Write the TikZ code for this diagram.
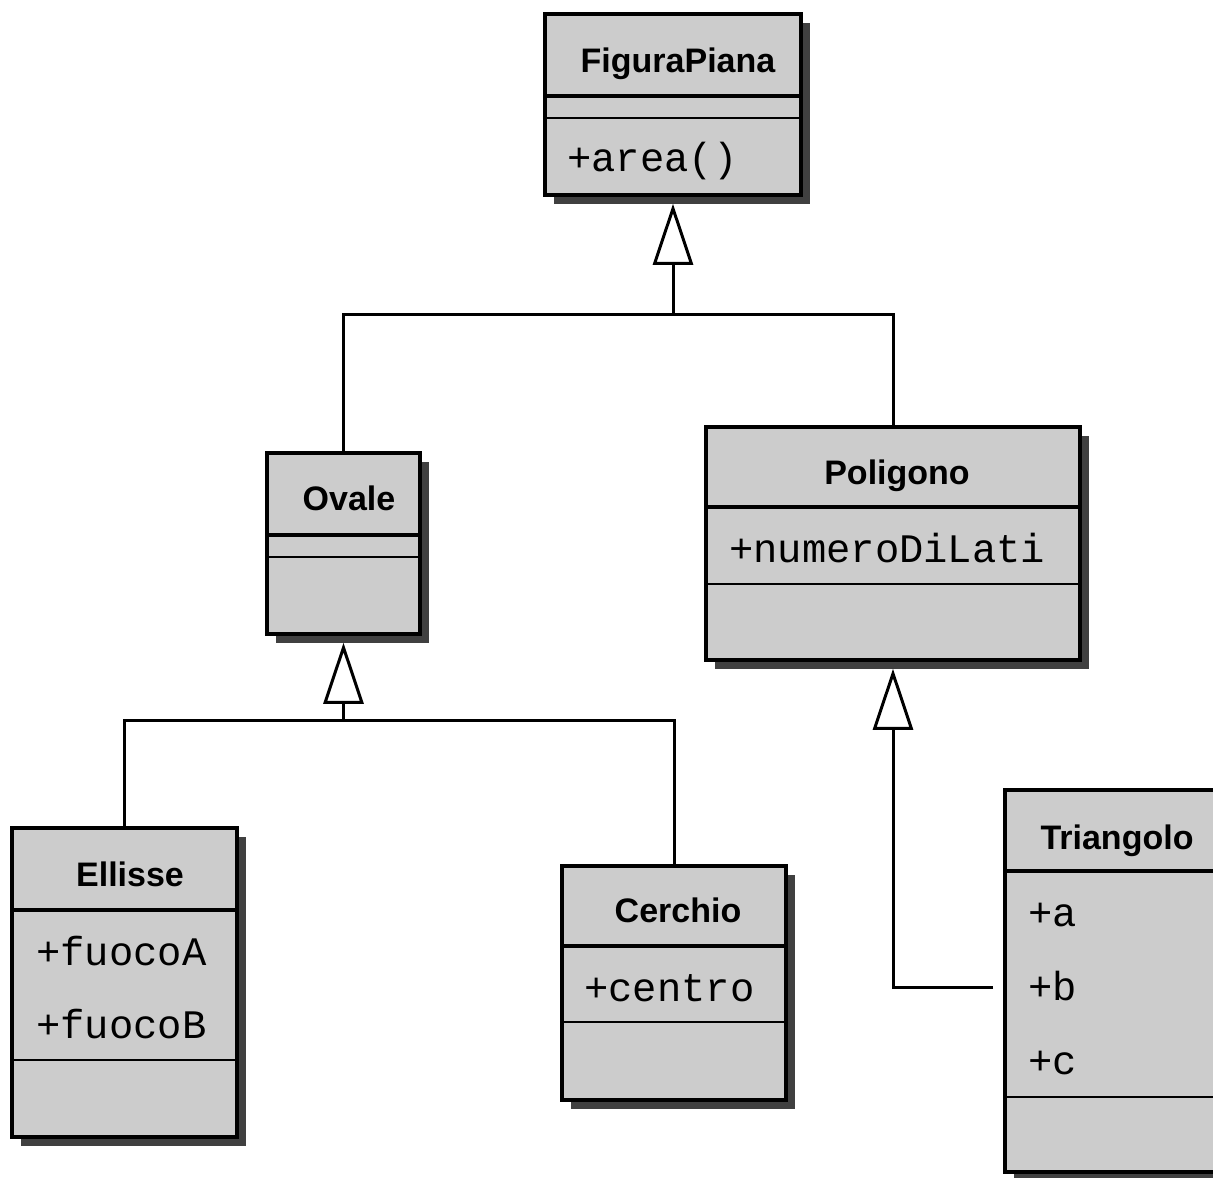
\documentclass[tikz,border=0pt]{standalone}
\usepackage{fontspec}
\setmainfont{Liberation Sans}
\newfontfamily\monof{Liberation Mono}
\usetikzlibrary{arrows.meta,shadows}
\definecolor{boxfill}{HTML}{CCCCCC}
\definecolor{shadowgray}{HTML}{404040}
\tikzset{
  umlbox/.style={rectangle, draw=black, line width=3.5bp, fill=boxfill, inner sep=0pt,
    drop shadow={shadow xshift=9bp, shadow yshift=-9bp, fill=shadowgray, opacity=1}},
  headsep/.style={line width=4bp},
  compsep/.style={line width=2.5bp},
  title/.style={font=\bfseries\fontsize{34bp}{40bp}\selectfont, anchor=base, inner sep=0pt},
  attr/.style={font=\monof\fontsize{40.5bp}{46bp}\selectfont, anchor=base west, inner sep=0pt},
  link/.style={line width=3bp},
  gen/.style={line width=3bp, -{Triangle[open, length=61bp, width=40bp]}, shorten >=7bp},
}
\begin{document}
\begin{tikzpicture}[x=1bp, y=-1bp]
\useasboundingbox (0,0) rectangle (1213,1178);
\fill[white] (0,0) rectangle (1213,1178);

% boxes
\node[umlbox, minimum width=256bp, minimum height=181bp] (fig) at (673,104.5) {};
\node[umlbox, minimum width=153bp, minimum height=181bp] (ova) at (343.5,543.5) {};
\node[umlbox, minimum width=374bp, minimum height=233bp] (pol) at (893,543.5) {};
\node[umlbox, minimum width=225bp, minimum height=309bp] (ell) at (124.5,982.5) {};
\node[umlbox, minimum width=224bp, minimum height=234bp] (cer) at (674,983) {};
\node[umlbox, minimum width=240bp, minimum height=382bp] (tri) at (1125,981) {};

% compartment lines
\draw[headsep] (fig.west |- 0,96) -- (fig.east |- 0,96);
\draw[compsep] (fig.west |- 0,118) -- (fig.east |- 0,118);
\draw[headsep] (ova.west |- 0,535) -- (ova.east |- 0,535);
\draw[compsep] (ova.west |- 0,557) -- (ova.east |- 0,557);
\draw[headsep] (pol.west |- 0,507) -- (pol.east |- 0,507);
\draw[compsep] (pol.west |- 0,584) -- (pol.east |- 0,584);
\draw[headsep] (ell.west |- 0,910) -- (ell.east |- 0,910);
\draw[compsep] (ell.west |- 0,1060) -- (ell.east |- 0,1060);
\draw[headsep] (cer.west |- 0,946) -- (cer.east |- 0,946);
\draw[compsep] (cer.west |- 0,1022) -- (cer.east |- 0,1022);
\draw[headsep] (tri.west |- 0,871) -- (tri.east |- 0,871);
\draw[compsep] (tri.west |- 0,1097) -- (tri.east |- 0,1097);

% titles
\node[title] (figT) at (678,72) {FiguraPiana};
\node[title] (ovaT) at (349,510) {Ovale};
\node[title] (polT) at (897,484) {Poligono};
\node[title] (ellT) at (130,886) {Ellisse};
\node[title] (cerT) at (678,922) {Cerchio};
\node[title] (triT) at (1117,849) {Triangolo};

% attributes / operations
\node[attr] (figA) at (567,171) {+area()};
\node[attr] (polA) at (729,562) {+numeroDiLati};
\node[attr] (ellA) at (36,965) {+fuocoA};
\node[attr] (ellB) at (36,1038) {+fuocoB};
\node[attr] (cerA) at (584,1001) {+centro};
\node[attr] (triA) at (1028,926) {+a};
\node[attr] (triB) at (1028,1000) {+b};
\node[attr] (triC) at (1028,1074) {+c};

% generalisations
\coordinate (j1) at (673,314);
\coordinate (j2) at (343.5,720);
\coordinate (tb) at (993,987);
\draw[link] (ova.north) |- (j1) -| (pol.north);
\draw[gen] (j1) -- (fig.south);
\draw[link] (ell.north) |- (j2) -| (cer.north);
\draw[gen] (j2) -- (ova.south);
\draw[gen] (tb) -| (pol.south);
\end{tikzpicture}
\end{document}
